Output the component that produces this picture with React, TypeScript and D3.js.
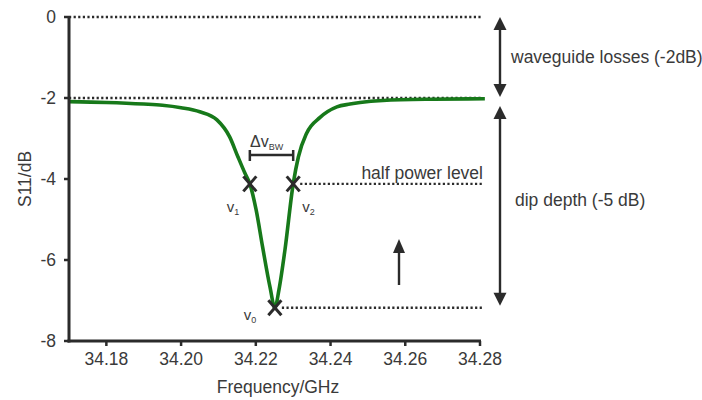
import React from "react";
import * as d3 from "d3";

// S11 dip (GHz, dB)
const freqs = [
  34.17, 34.18, 34.19, 34.195, 34.2, 34.205, 34.2096, 34.213, 34.2152, 34.2171,
  34.2184, 34.2201, 34.2218, 34.2238, 34.2251, 34.2262, 34.2278, 34.23, 34.2314,
  34.2336, 34.2372, 34.2417, 34.2452, 34.2479, 34.254, 34.2674, 34.2813,
];
const s11 = [
  -2.09, -2.11, -2.15, -2.18, -2.24, -2.34, -2.54, -2.96, -3.45, -3.86,
  -4.12, -4.77, -5.67, -6.67, -7.18, -6.73, -5.75, -4.12, -3.45,
  -2.87, -2.48, -2.22, -2.15, -2.11, -2.06, -2.03, -2.02,
];
const xTicks = [34.18, 34.2, 34.22, 34.24, 34.26, 34.28];
const yTicks = [-8, -6, -4, -2, 0];

const markers = [
  { f: 34.2184, v: -4.12, sub: "1" },
  { f: 34.23, v: -4.12, sub: "2" },
  { f: 34.2251, v: -7.18, sub: "0" },
];
const baseLevel = -2;
const topLevel = 0;
const halfLevel = -4.12;
const dipLevel = -7.18;

const W = 702;
const H = 400;
const font = "'Liberation Sans', Arial, sans-serif";
const ink = "#2b2b2b";
const textInk = "#3a3a3a";

export default function App() {
  const x = d3.scaleLinear().domain([34.17, 34.28]).range([69, 480]);
  const y = d3.scaleLinear().domain([-8, 0]).range([341, 17]);

  const pts: [number, number][] = freqs.map((f, i) => [f, s11[i]]);
  const line = d3
    .line<[number, number]>()
    .x((d) => x(d[0]))
    .y((d) => y(d[1]))
    .curve(d3.curveMonotoneX);

  const xEnd = x(34.2808);
  const dots = { stroke: ink, strokeWidth: 2.4, strokeDasharray: "2.2,2.4" };

  const arrowUp = (cx: number, tip: number, w = 13, h = 13) =>
    `M${cx},${tip} L${cx - w / 2},${tip + h} L${cx + w / 2},${tip + h} Z`;
  const arrowDown = (cx: number, tip: number, w = 13, h = 13) =>
    `M${cx},${tip} L${cx - w / 2},${tip - h} L${cx + w / 2},${tip - h} Z`;

  const ax = 500;
  const [m1, m2, m0] = markers;

  return (
    <svg
      width={W}
      height={H}
      style={{ position: "absolute", left: 0, top: 0, background: "#fff" }}
      fontFamily={font}
    >
      {/* reference levels */}
      <line x1={x(34.17)} x2={xEnd} y1={y(topLevel)} y2={y(topLevel)} {...dots} />
      <line x1={x(34.17)} x2={xEnd} y1={y(baseLevel)} y2={y(baseLevel)} {...dots} />
      <line x1={x(m2.f) + 7} x2={xEnd} y1={y(halfLevel)} y2={y(halfLevel)} {...dots} />
      <line x1={x(m0.f) + 7} x2={xEnd} y1={y(dipLevel)} y2={y(dipLevel)} {...dots} />

      {/* curve */}
      <path d={line(pts) || ""} fill="none" stroke="#17791a" strokeWidth={3.6} />

      {/* axes */}
      <line x1={69} x2={69} y1={y(0) - 1} y2={y(-8) + 1.5} stroke={ink} strokeWidth={3} />
      <line x1={67.5} x2={x(34.28) + 1} y1={y(-8)} y2={y(-8)} stroke={ink} strokeWidth={3} />
      {yTicks.map((t) => (
        <g key={t}>
          <line x1={64} x2={69} y1={y(t)} y2={y(t)} stroke={ink} strokeWidth={2.5} />
          <text x={56} y={y(t) + 6} textAnchor="end" fontSize={17.5} fill={textInk}>
            {t}
          </text>
        </g>
      ))}
      {xTicks.map((t) => (
        <g key={t}>
          <line x1={x(t)} x2={x(t)} y1={y(-8)} y2={y(-8) + 5} stroke={ink} strokeWidth={2.5} />
          <text x={x(t)} y={365} textAnchor="middle" fontSize={17.5} fill={textInk}>
            {t.toFixed(2)}
          </text>
        </g>
      ))}
      <text x={278} y={393} textAnchor="middle" fontSize={17.5} fill={textInk}>
        Frequency/GHz
      </text>
      <text
        transform={`translate(31,${(y(0) + y(-8)) / 2}) rotate(-90)`}
        textAnchor="middle"
        fontSize={17.5}
        fill={textInk}
      >
        S11/dB
      </text>

      {/* markers */}
      {markers.map((m) => {
        const cx = x(m.f);
        const cy = y(m.v);
        return (
          <g key={m.sub} stroke={ink} strokeWidth={3}>
            <line x1={cx - 6.5} x2={cx + 6.5} y1={cy - 7.5} y2={cy + 7.5} />
            <line x1={cx - 6.5} x2={cx + 6.5} y1={cy + 7.5} y2={cy - 7.5} />
          </g>
        );
      })}
      <text x={x(m1.f) - 23} y={y(m1.v) + 28} fontSize={15} fill={textInk}>
        v<tspan fontSize={9} dy={3}>1</tspan>
      </text>
      <text x={x(m2.f) + 9} y={y(m2.v) + 28} fontSize={15} fill={textInk}>
        v<tspan fontSize={9} dy={3}>2</tspan>
      </text>
      <text x={x(m0.f) - 31} y={y(m0.v) + 12} fontSize={15} fill={textInk}>
        v<tspan fontSize={9} dy={3}>0</tspan>
      </text>

      {/* bandwidth bracket */}
      <g stroke={ink} strokeWidth={2.5}>
        <line x1={x(m1.f)} x2={x(m2.f)} y1={155} y2={155} />
        <line x1={x(m1.f)} x2={x(m1.f)} y1={150} y2={161} />
        <line x1={x(m2.f)} x2={x(m2.f)} y1={150} y2={161} />
      </g>
      <text x={250} y={147} fontSize={16} fill={textInk}>
        Δv<tspan fontSize={9} dy={3}>BW</tspan>
      </text>
      <text x={483} y={y(halfLevel) - 5} textAnchor="end" fontSize={17.5} fill={textInk}>
        half power level
      </text>

      {/* right-hand arrows */}
      <g fill={ink} stroke="none">
        <path d={arrowUp(ax, y(topLevel))} />
        <path d={arrowDown(ax, y(baseLevel) - 1)} />
        <path d={arrowUp(ax, y(baseLevel) + 8)} />
        <path d={arrowDown(ax, y(dipLevel) - 2)} />
        <path d={arrowUp(399, 239, 12, 14)} />
      </g>
      <g stroke={ink} strokeWidth={2.4}>
        <line x1={ax} x2={ax} y1={y(topLevel) + 10} y2={y(baseLevel) - 10} />
        <line x1={ax} x2={ax} y1={y(baseLevel) + 18} y2={y(dipLevel) - 12} />
        <line x1={399} x2={399} y1={250} y2={285} />
      </g>
      <text x={511} y={63} fontSize={17.5} fill={textInk}>
        waveguide losses (-2dB)
      </text>
      <text x={515} y={206} fontSize={17.5} fill={textInk}>
        dip depth (-5 dB)
      </text>
    </svg>
  );
}
